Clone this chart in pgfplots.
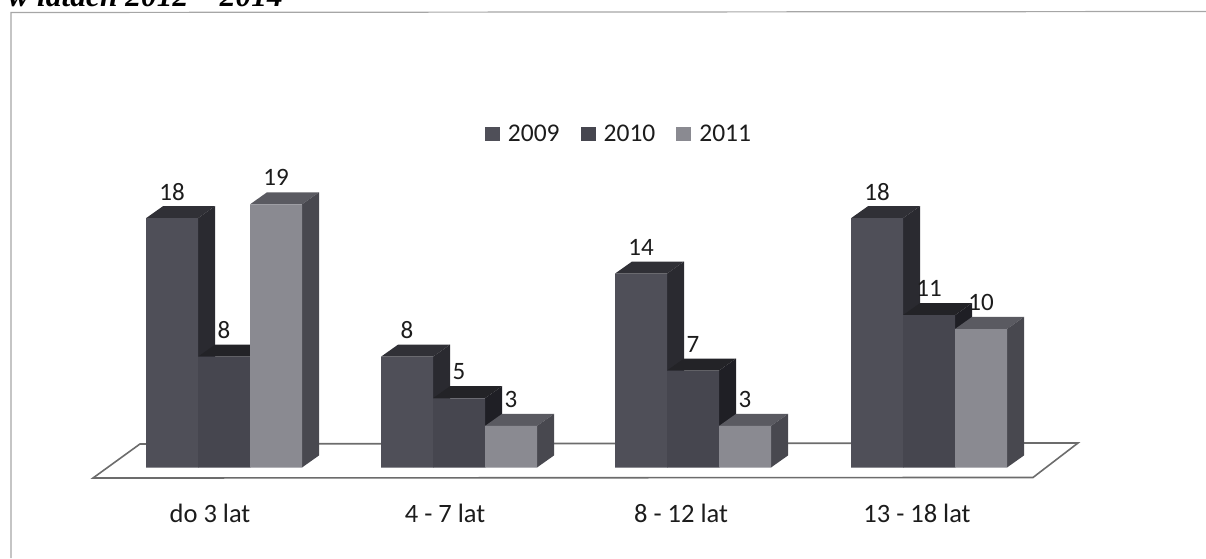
\documentclass[border=0pt]{standalone}
\usepackage{fontspec}
\setmainfont{Carlito}
\newfontfamily\titlefont{Liberation Serif}
\usepackage{pgfplots}
\pgfplotsset{compat=1.18}
\definecolor{fA}{HTML}{4F4F58}\definecolor{tA}{HTML}{303036}\definecolor{sA}{HTML}{2A2A30}
\definecolor{fB}{HTML}{46464F}\definecolor{tB}{HTML}{232327}\definecolor{sB}{HTML}{1F1F25}
\definecolor{fC}{HTML}{8A8A91}\definecolor{tC}{HTML}{5A5A61}\definecolor{sC}{HTML}{48484F}
\definecolor{txt}{HTML}{1C1C1C}
% left edge, value, top colour, side colour
\newcommand{\faces}[4]{%
  \pgfmathsetmacro\xr{#1+52}\pgfmathsetmacro\xb{#1+17}\pgfmathsetmacro\xc{#1+69}\pgfmathsetmacro\yb{#2+0.87}%
  \addplot[fill=#3,draw=none,forget plot] coordinates {(#1,#2) (\xb,\yb) (\xc,\yb) (\xr,#2)} -- cycle;
  \addplot[fill=#4,draw=none,forget plot] coordinates {(\xr,0) (\xc,0.87) (\xc,\yb) (\xr,#2)} -- cycle;
}
\begin{document}
\begin{tikzpicture}[x=1pt,y=1pt]
\useasboundingbox (0,-63) rectangle (1206,495);
\begin{axis}[
  at={(0,0)},anchor=south west,
  width=1206pt,height=495pt,scale only axis,clip=false,
  xmin=0,xmax=1206,ymin=-1.986,ymax=33.755,
  axis line style={draw=none},tick style={draw=none},
  ytick=\empty,
  xtick={210,445,681,917},
  xticklabels={do 3 lat,4 - 7 lat,8 - 12 lat,13 - 18 lat},
  xticklabel style={font=\fontsize{26.5}{28}\selectfont,text=txt,inner sep=0pt,yshift=-9pt,anchor=north},
  /pgf/number format/assume math mode=true,
  nodes near coords style={font=\fontsize{25}{27}\selectfont,text=txt,inner sep=0pt,anchor=center,yshift=26.5pt},
  legend columns=-1,
  legend style={at={(619/1206,361/495)},anchor=center,draw=none,fill=none,
    font=\fontsize{25.5}{27}\selectfont,text=txt,
    /tikz/every odd column/.append style={column sep=6pt},
    /tikz/every even column/.append style={column sep=19pt}},
  legend image code/.code={\fill[#1] (0pt,-7pt) rectangle (15pt,7pt);},
]
% floor
\addplot[fill=white,draw=gray!85!black,line width=1.6pt,forget plot] coordinates {(93,-0.76) (140,1.70) (1078,1.77) (1033,-0.72)} -- cycle;
% 2009
\faces{146}{18}{tA}{sA}\faces{381}{8}{tA}{sA}\faces{615}{14}{tA}{sA}\faces{851}{18}{tA}{sA}
\addplot[ybar,bar width=52pt,bar shift=0pt,fill=fA,draw=none,nodes near coords] coordinates {(172,18) (407,8) (641,14) (877,18)};
\addlegendentry{2009}
% 2010
\faces{198}{8}{tB}{sB}\faces{433}{5}{tB}{sB}\faces{667}{7}{tB}{sB}\faces{903}{11}{tB}{sB}
\addplot[ybar,bar width=52pt,bar shift=0pt,fill=fB,draw=none,nodes near coords] coordinates {(224,8) (459,5) (693,7) (929,11)};
\addlegendentry{2010}
% 2011
\faces{250}{19}{tC}{sC}\faces{485}{3}{tC}{sC}\faces{719}{3}{tC}{sC}\faces{955}{10}{tC}{sC}
\addplot[ybar,bar width=52pt,bar shift=0pt,fill=fC,draw=none,nodes near coords] coordinates {(276,19) (511,3) (745,3) (981,10)};
\addlegendentry{2011}
\end{axis}
\draw[gray!70,line width=1.2pt] (11,-63) -- (11,482.5) -- (1206,483.5);
\node[anchor=base west,inner sep=0pt,font=\titlefont\bfseries\itshape\fontsize{31.5}{33}\selectfont,text=black] at (8,488.5) {w latach 2012 – 2014};
\end{tikzpicture}
\end{document}
